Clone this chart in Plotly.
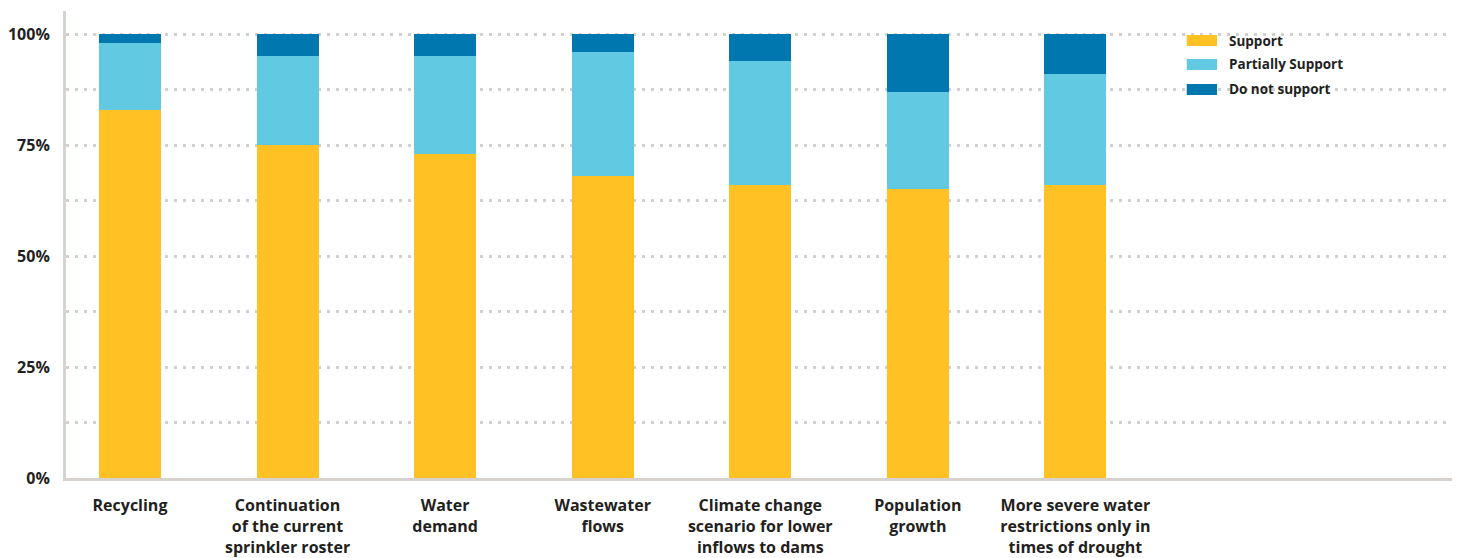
import plotly.graph_objects as go

# Survey responses (% of respondents) per planning topic
categories = [
    "Recycling",
    "Continuation<br>of the current<br>sprinkler roster",
    "Water<br>demand",
    "Wastewater<br>flows",
    "Climate change<br>scenario for lower<br>inflows to dams",
    "Population<br>growth",
    "More severe water<br>restrictions only in<br>times of drought",
]
support = [83, 75, 73, 68, 66, 65, 66]
partially_support = [15, 20, 22, 28, 28, 22, 25]
do_not_support = [2, 5, 5, 4, 6, 13, 9]

series_names = ["Support", "Partially Support", "Do not support"]
series_colors = ["#FFC124", "#62C9E3", "#0077AE"]

y_tick_values = [0, 25, 50, 75, 100]
y_tick_labels = ["0%", "25%", "50%", "75%", "100%"]

TEXT = "#231f20"
FONT = "Open Sans"

x_pos = list(range(len(categories)))

fig = go.Figure()
for name, vals, col in zip(series_names,
                           [support, partially_support, do_not_support],
                           series_colors):
    fig.add_trace(go.Bar(
        x=x_pos, y=vals, name=name, marker=dict(color=col, line=dict(width=0)),
        width=0.394, showlegend=False,
    ))

# Legend drawn as swatches + labels in the top-right corner
W, H, T, B = 1463, 558, 11, 80
plot_h = H - T - B
legend_x0 = 1183 / W
legend_x1 = 1215 / W
row_centers = [40.5, 64.5, 89.5]
for name, col, yc in zip(series_names, series_colors, row_centers):
    fig.add_shape(type="rect", xref="paper", yref="paper",
                  x0=legend_x0, x1=legend_x1,
                  y0=1 - (yc + 5.5 - T) / plot_h,
                  y1=1 - (yc - 5.5 - T) / plot_h,
                  line=dict(width=0), fillcolor=col, layer="above")
    fig.add_annotation(xref="paper", yref="paper",
                       x=1225 / W, y=1 - (yc - T) / plot_h,
                       xanchor="left", yanchor="middle", showarrow=False,
                       text=name,
                       font=dict(family=FONT, size=13.5, color=TEXT, weight="bold"))

fig.update_layout(
    barmode="stack",
    width=W, height=H,
    margin=dict(l=66, r=11, t=T, b=B, autoexpand=False),
    paper_bgcolor="white", plot_bgcolor="white",
    font=dict(family=FONT, color=TEXT, weight="bold"),
    xaxis=dict(
        range=[-0.406, 8.39],
        tickvals=x_pos, ticktext=categories,
        tickfont=dict(family=FONT, size=16, color=TEXT, weight="bold"),
        showgrid=False, zeroline=False,
        showline=True, linecolor="#d8d2ce", linewidth=3,
        ticks="", ticklabelstandoff=11,
    ),
    yaxis=dict(
        range=[0, 105.2],
        tickvals=y_tick_values, ticktext=y_tick_labels,
        tickfont=dict(family=FONT, size=16, color=TEXT, weight="bold"),
        showgrid=True, gridcolor="#d0d0d0", gridwidth=3, griddash="3px,6px",
        minor=dict(dtick=12.5, showgrid=True, gridcolor="#d0d0d0",
                   gridwidth=3, griddash="3px,6px"),
        zeroline=False,
        showline=True, linecolor="#d8d2ce", linewidth=3,
        ticks="", ticklabelstandoff=10,
    ),
)

fig.write_html("out.html")
